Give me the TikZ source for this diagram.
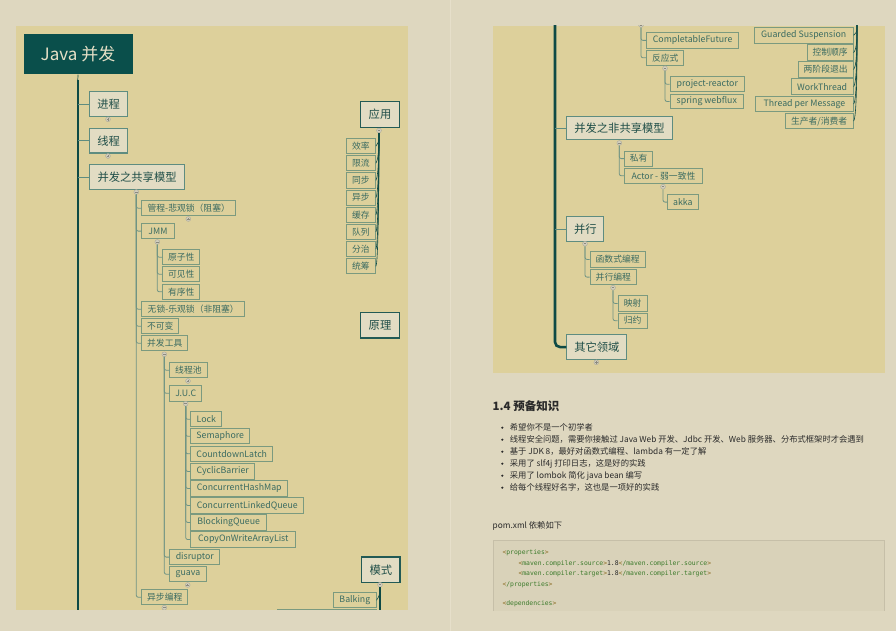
\documentclass[tikz,border=0pt]{standalone}
\usepackage{fontspec}
\setmainfont{Noto Sans CJK SC}
\setmonofont{DejaVu Sans Mono}
\definecolor{bg}{HTML}{DED7BF}
\definecolor{panel}{HTML}{DDD09B}
\definecolor{rootfill}{HTML}{0A4F4B}
\definecolor{roottext}{HTML}{E6E0C6}
\definecolor{trunkc}{HTML}{0E4A45}
\definecolor{lonefill}{HTML}{E2DCC3}
\definecolor{loneborder}{HTML}{5E8C80}
\definecolor{lonetext}{HTML}{1F4E48}
\definecolor{ltwoborder}{HTML}{7B9A7F}
\definecolor{ltwotext}{HTML}{3A6B61}
\definecolor{connc}{HTML}{6F9484}
\definecolor{topicborder}{HTML}{225A55}
\definecolor{togf}{HTML}{D3CFBD}
\definecolor{togb}{HTML}{A9A89A}
\definecolor{togs}{HTML}{8C8A7E}
\definecolor{bodytext}{HTML}{2A2A2A}
\definecolor{codebg}{HTML}{D9D2B9}
\definecolor{codeborder}{HTML}{C6BFA8}
\definecolor{codegreen}{HTML}{3B7A2A}
\definecolor{codebr}{HTML}{8A6A20}
\definecolor{divider}{HTML}{E6DFCA}
\tikzset{
  rootbox/.style={fill=rootfill, text=roottext, anchor=north west, inner sep=0pt,
    font=\fontsize{17}{18}\selectfont},
  lonebox/.style={draw=loneborder, line width=1.1pt, fill=lonefill, text=lonetext,
    anchor=north west, inner sep=0pt, font=\fontsize{11.3}{12}\selectfont},
  ltwobox/.style={draw=ltwoborder, line width=0.9pt, text=ltwotext,
    anchor=north west, inner sep=0pt, font=\fontsize{8.8}{9}\selectfont},
  topicbox/.style={draw=topicborder, line width=1.3pt, fill=lonefill, text=lonetext,
    anchor=north west, inner sep=0pt, font=\fontsize{11.3}{12}\selectfont},
  trunkline/.style={draw=trunkc, line width=2.6pt},
  loneconn/.style={draw=loneborder, line width=1pt},
  conn/.style={draw=connc, line width=0.8pt, rounded corners=2pt},
  fanconn/.style={draw=trunkc, line width=0.6pt},
  togbase/.style={circle, draw=togb, fill=togf, line width=0.4pt, minimum size=4.8pt, inner sep=0pt},
  togminus/.style={togbase, path picture={\draw[togs, line width=0.5pt]
    ([xshift=1pt]path picture bounding box.west) -- ([xshift=-1pt]path picture bounding box.east);}},
  togplus/.style={togbase, path picture={\draw[togs, line width=0.5pt]
    ([xshift=1pt]path picture bounding box.west) -- ([xshift=-1pt]path picture bounding box.east)
    ([yshift=1pt]path picture bounding box.south) -- ([yshift=-1pt]path picture bounding box.north);}},
  bodynode/.style={anchor=west, inner sep=0pt, text=bodytext, font=\fontsize{8.3}{9}\selectfont},
  codenode/.style={anchor=west, inner sep=0pt, text=codegreen, font=\fontsize{6.4}{7}\ttfamily},
}
\newcommand{\tg}[1]{\textcolor{codebr}{<}#1\textcolor{codebr}{>}}
\begin{document}
\begin{tikzpicture}[x=1pt, y=-1pt]
\useasboundingbox (0,0) rectangle (896,631);
\fill[bg] (0,0) rectangle (896,631);
\draw[divider, line width=0.6pt] (450,0) -- (450,631);
\fill[panel] (16,26) rectangle (408,609.5);
\fill[panel] (493,26) rectangle (885,373);

% ================= LEFT PAGE =================
\begin{scope}
\clip (16,26) rectangle (408,609.5);
\node[rootbox, minimum width=109pt, minimum height=40.6pt] (root) at (23.3,33.7) {Java 并发};
\coordinate (tk) at (77.8,80);
\coordinate (tkend) at (77.8,625);
\draw[trunkc, line width=0.7pt] (root.south) -- (tk);
\draw[trunkline] (tk) -- (tkend);

\node[lonebox, minimum width=37.4pt, minimum height=24.4pt] (jc) at (89.3,91.3) {进程};
\node[lonebox, minimum width=37.4pt, minimum height=24.2pt] (xc) at (89.3,128.3) {线程};
\node[lonebox, minimum width=94.4pt, minimum height=24.4pt] (gx) at (89.3,164.3) {并发之共享模型};
\foreach \n in {jc,xc,gx} \draw[loneconn] (tk |- \n.west) -- (\n.west);
\node[togplus] (jct) at (108,119.3) {};
\node[togplus] (xct) at (108,156) {};
\node[togminus] (gxt) at (136.3,192) {};

\node[ltwobox, minimum width=94pt, minimum height=15pt] (gc) at (141.3,200.3) {管程-悲观锁（阻塞）};
\node[ltwobox, minimum width=32.3pt, minimum height=15.3pt] (jmm) at (141.3,223) {JMM};
\node[ltwobox, minimum width=103pt, minimum height=15pt] (ws) at (141.3,301.3) {无锁-乐观锁（非阻塞）};
\node[ltwobox, minimum width=37pt, minimum height=15pt] (bkb) at (141.3,318.3) {不可变};
\node[ltwobox, minimum width=46pt, minimum height=15pt] (gj) at (141.3,335.3) {并发工具};
\node[ltwobox, minimum width=46pt, minimum height=15pt] (yb) at (141.3,589.3) {异步编程};
\foreach \n in {gc,jmm,ws,bkb,gj,yb} \draw[conn] (gxt.south) |- (\n.west);
\node[togplus] (gct) at (188.3,219) {};
\node[togminus] (jmmt) at (157.3,242) {};
\node[togminus] (gjt) at (164.3,354.3) {};
\node[togminus] (ybt) at (164.3,607.7) {};

\node[ltwobox, minimum width=37pt, minimum height=15pt] (yzx) at (162.3,249.3) {原子性};
\node[ltwobox, minimum width=37pt, minimum height=15pt] (kjx) at (162.3,266.3) {可见性};
\node[ltwobox, minimum width=37pt, minimum height=15.3pt] (yxx) at (162.3,283.7) {有序性};
\foreach \n in {yzx,kjx,yxx} \draw[conn] (jmmt.south) |- (\n.west);

\node[ltwobox, minimum width=37.3pt, minimum height=15pt] (xcc) at (169.3,362.3) {线程池};
\node[ltwobox, minimum width=32pt, minimum height=15.7pt] (juc) at (169.3,385) {J.U.C};
\node[ltwobox, minimum width=50pt, minimum height=15.3pt] (dis) at (169.3,549) {disruptor};
\node[ltwobox, minimum width=36.3pt, minimum height=15pt] (gua) at (169.3,566.3) {guava};
\foreach \n in {xcc,juc,dis,gua} \draw[conn] (gjt.south) |- (\n.west);
\node[togplus] (xcct) at (188,381) {};
\node[togminus] (juct) at (185.7,403.7) {};
\node[togplus] (guat) at (187.7,585) {};

\node[ltwobox, minimum width=31pt, minimum height=15pt] (lk) at (190.3,411.3) {Lock};
\node[ltwobox, minimum width=59pt, minimum height=15pt] (sem) at (190.3,428.3) {Semaphore};
\node[ltwobox, minimum width=82pt, minimum height=15.3pt] (cdl) at (190.3,445.7) {CountdownLatch};
\node[ltwobox, minimum width=64pt, minimum height=15.3pt] (cyb) at (190.3,463.3) {CyclicBarrier};
\node[ltwobox, minimum width=97pt, minimum height=15.3pt] (chm) at (190.3,480.3) {ConcurrentHashMap};
\node[ltwobox, minimum width=113pt, minimum height=15.3pt] (clq) at (190.3,497.3) {ConcurrentLinkedQueue};
\node[ltwobox, minimum width=76pt, minimum height=15.3pt] (bq) at (190.3,514.3) {BlockingQueue};
\node[ltwobox, minimum width=105pt, minimum height=15.6pt] (cow) at (190.3,531.3) {CopyOnWriteArrayList};
\foreach \n in {lk,sem,cdl,cyb,chm,clq,bq,cow} \draw[conn] (juct.south) |- (\n.west);

% topic column
\node[topicbox, minimum width=38.7pt, minimum height=26pt] (yy) at (360,101) {应用};
\node[togminus] (yyt) at (379,130.5) {};
\foreach \n/\t [count=\i from 0] in {xl/效率,xlb/限流,tb/同步,yib/异步,hc/缓存,dl/队列,fz/分治,tc/统筹}{
  \node[ltwobox, minimum width=29.3pt, minimum height=15.3pt] (\n) at (345.7,138+17.17*\i) {\t};
  \draw[fanconn] (yyt.south) .. controls +(0,10) and +(3,-5) .. (\n.east);
}
\node[topicbox, minimum width=38.7pt, minimum height=25.3pt] (yl) at (360,312) {原理};
\node[topicbox, minimum width=38.3pt, minimum height=25.7pt] (ms) at (361,556.3) {模式};
\node[togminus] (mst) at (380,584.7) {};
\node[ltwobox, minimum width=42.3pt, minimum height=15pt] (bk) at (333.3,592.3) {Balking};
\node[ltwobox, minimum width=98.5pt, minimum height=15pt] (nx) at (277,609) {};
\coordinate (msend) at (380,625);
\draw[trunkc, line width=1.1pt] (mst.south) -- (msend);
\draw[fanconn] (mst.south) .. controls +(0,6) and +(3,-4) .. (bk.east);
\end{scope}

% ================= RIGHT PAGE =================
\begin{scope}
\clip (493,26) rectangle (885,373);
\coordinate (rtop) at (555,20);
\node[lonebox, minimum width=105.3pt, minimum height=23.7pt] (fgx) at (566.3,115.7) {并发之非共享模型};
\node[lonebox, minimum width=37pt, minimum height=24.4pt] (bx) at (566.3,216.3) {并行};
\node[lonebox, minimum width=60pt, minimum height=24.4pt] (qt) at (566.3,334.3) {其它领域};
\draw[trunkline, rounded corners=5pt] (rtop) |- (qt.west);
\foreach \n in {fgx,bx} \draw[loneconn] (rtop |- \n.west) -- (\n.west);

\node[togminus] (ybc) at (641,25) {};
\node[ltwobox, minimum width=91.7pt, minimum height=15.3pt] (cf) at (646.3,32.3) {CompletableFuture};
\node[ltwobox, minimum width=37pt, minimum height=15.3pt] (fys) at (646.3,49.7) {反应式};
\foreach \n in {cf,fys} \draw[conn] (ybc.south) |- (\n.west);
\node[togminus] (fyst) at (665,68.3) {};
\node[ltwobox, minimum width=74.3pt, minimum height=15pt] (pr) at (669.7,76.3) {project-reactor};
\node[ltwobox, minimum width=73.3pt, minimum height=14.7pt] (sw) at (669.7,93.7) {spring webflux};
\foreach \n in {pr,sw} \draw[conn] (fyst.south) |- (\n.west);

\node[togminus] (fgxt) at (619.3,143) {};
\node[ltwobox, minimum width=28.3pt, minimum height=15pt] (sy) at (624,150.7) {私有};
\node[ltwobox, minimum width=78pt, minimum height=15.3pt] (act) at (624,167.7) {Actor - 弱一致性};
\foreach \n in {sy,act} \draw[conn] (fgxt.south) |- (\n.west);
\node[togminus] (actt) at (663,186.7) {};
\node[ltwobox, minimum width=30.3pt, minimum height=14.7pt] (akka) at (667.3,194.3) {akka};
\draw[conn] (actt.south) |- (akka.west);

\node[togminus] (bxt) at (585,243.7) {};
\node[ltwobox, minimum width=55pt, minimum height=15.3pt] (hss) at (589.7,251.3) {函数式编程};
\node[ltwobox, minimum width=46.3pt, minimum height=15.3pt] (bxbc) at (589.7,269) {并行编程};
\foreach \n in {hss,bxbc} \draw[conn] (bxt.south) |- (\n.west);
\node[togminus] (bxbct) at (613,287.7) {};
\node[ltwobox, minimum width=29pt, minimum height=15.3pt] (ys) at (617.7,295.3) {映射};
\node[ltwobox, minimum width=29pt, minimum height=15pt] (gy) at (617.7,312.7) {归约};
\foreach \n in {ys,gy} \draw[conn] (bxbct.south) |- (\n.west);
\node[togplus] (qtt) at (596.3,362.3) {};

\coordinate (ptop) at (857,20);
\node[ltwobox, minimum width=99pt, minimum height=15.7pt] (gs) at (753.7,27) {Guarded Suspension};
\node[ltwobox, minimum width=46pt, minimum height=15.7pt] (kz) at (806.7,44.3) {控制顺序};
\node[ltwobox, minimum width=55pt, minimum height=15.7pt] (ljd) at (797.7,61.3) {两阶段退出};
\node[ltwobox, minimum width=62pt, minimum height=15.7pt] (wt) at (790.7,78.3) {WorkThread};
\node[ltwobox, minimum width=97.4pt, minimum height=15.3pt] (tpm) at (755.3,96) {Thread per Message};
\node[ltwobox, minimum width=68pt, minimum height=15.3pt] (scz) at (784.7,113) {生产者/消费者};
\foreach \n in {gs,kz,ljd,wt,tpm,scz}
  \draw[fanconn] (ptop) .. controls +(0,12) and +(4,-4) .. (\n.east);
\end{scope}

% ================= TEXT SECTION =================
\node[bodynode, font=\fontsize{11.5}{13}\selectfont\bfseries] (h) at (492.5,406) {1.4 预备知识};
\foreach \t [count=\i from 0] in {
  希望你不是一个初学者,
  {线程安全问题，需要你接触过 Java Web 开发、Jdbc 开发、Web 服务器、分布式框架时才会遇到},
  {基于 JDK 8，最好对函数式编程、lambda 有一定了解},
  {采用了 slf4j 打印日志，这是好的实践},
  {采用了 lombok 简化 java bean 编写},
  {给每个线程好名字，这也是一项好的实践}}{
  \fill[bodytext] (502.3,427.7+12*\i) circle (1.2pt);
  \node[bodynode] (b\i) at (509.7,427.7+12*\i) {\t};
}
\node[bodynode] (pom) at (492.5,525.7) {pom.xml 依赖如下};
\begin{scope}
\clip (480,530) rectangle (896,610);
\draw[codeborder, fill=codebg, line width=0.8pt] (493.5,540) rectangle (884.5,640);
\node[codenode] (c1) at (502.3,553) {\tg{properties}};
\node[codenode] (c2) at (518.3,563.3) {\tg{maven.compiler.source}\textcolor{bodytext}{1.8}\tg{/maven.compiler.source}};
\node[codenode] (c3) at (518.3,573.7) {\tg{maven.compiler.target}\textcolor{bodytext}{1.8}\tg{/maven.compiler.target}};
\node[codenode] (c4) at (502.3,584.3) {\tg{/properties}};
\node[codenode] (c5) at (502.3,603.7) {\tg{dependencies}};
\end{scope}
\end{tikzpicture}
\end{document}
